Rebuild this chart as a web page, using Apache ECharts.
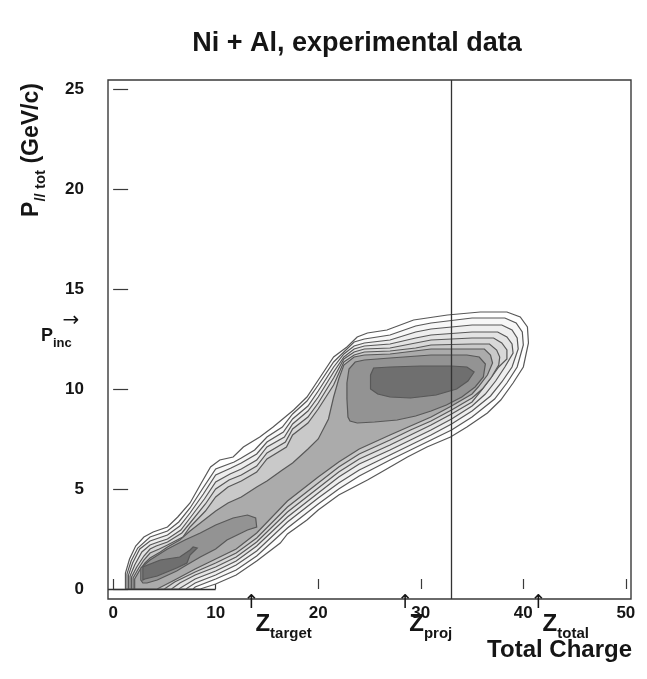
<!DOCTYPE html>
<html><head><meta charset="utf-8">
<script src="https://cdn.jsdelivr.net/npm/echarts@6/dist/echarts.min.js"></script>
<style>html,body{margin:0;padding:0;background:#fff}#c{width:647px;height:679px}</style>
</head><body><div id="c"></div>
<script>
const xTicks = [0, 10, 20, 30, 40, 50];
const yTicks = [0, 5, 10, 15, 20, 25];
const verticalLineX = 33;
const zTarget = 13, zProj = 28, zTotal = 41;
const pInc = 12.7;

// contour polygons, outermost first
const contour1 = [[1.2,0],[1.2,0.8],[1.6,1.5],[2.2,2.15],[3.0,2.6],[3.9,2.85],[5.3,3.1],[6.3,3.6],[7.5,4.3],[8.6,5.3],[9.5,6.1],[10.4,6.45],[11.7,6.6],[12.7,7.1],[14.3,7.6],[15.6,8.1],[17.6,8.95],[18.9,9.6],[20.2,10.6],[21.5,11.6],[22.8,12.1],[23.8,12.6],[24.8,12.8],[26.7,12.95],[29.3,13.45],[32.6,13.7],[35.8,13.85],[38.4,13.85],[39.7,13.6],[40.4,13.1],[40.5,12.3],[40.0,11.1],[39.0,10.3],[37.8,9.45],[36.5,8.8],[34.5,8.1],[32.9,7.6],[30.6,7.1],[28.7,6.6],[26.0,5.8],[24.8,5.45],[22,4.7],[20,3.95],[18.9,3.45],[17,2.75],[16.3,2.3],[14,1.4],[12,0.7],[10,0.25],[8.5,0]];
const contour2 = [[1.35,0],[1.35,0.75],[1.75,1.4],[2.4,2.05],[3.6,2.6],[5.3,2.9],[6.4,3.35],[7.5,4.05],[8.7,5.0],[10,6.0],[11.8,6.35],[12.5,6.55],[13.8,6.95],[15,7.6],[16.5,8.1],[17.5,8.75],[18.9,9.4],[20,10.2],[21.5,11.35],[22.5,11.85],[23.5,12.35],[24.5,12.5],[27,12.7],[29.5,13.15],[31,13.3],[35,13.55],[38.2,13.55],[39.3,13.3],[39.9,12.85],[40.0,12.2],[39.4,11.1],[38.4,10.3],[37.2,9.5],[35,8.6],[33,7.95],[31,7.45],[29,6.95],[27,6.45],[24,5.65],[22,5.0],[20,4.25],[17,3.05],[14,1.65],[12,0.95],[10,0.5],[8,0.1],[7.8,0]];
const contour3 = [[1.5,0],[1.5,0.7],[1.9,1.3],[2.6,2.0],[3.6,2.4],[5.3,2.7],[6.5,3.15],[7.5,3.8],[8.8,4.75],[10,5.7],[11.5,6.05],[12.5,6.3],[14,6.75],[15,7.35],[16.6,7.85],[17.5,8.5],[19,9.15],[20,9.9],[21.5,11.1],[22.5,11.75],[23.5,12.15],[24.5,12.3],[27,12.45],[29.5,12.85],[31,13.0],[35,13.2],[37.9,13.2],[38.9,12.95],[39.4,12.55],[39.5,12.0],[38.9,11.1],[37.9,10.35],[36.8,9.65],[35,8.9],[33,8.25],[31,7.7],[29,7.2],[27,6.7],[24,5.95],[22,5.3],[20,4.55],[17,3.35],[14,1.9],[12,1.2],[10,0.7],[8,0.3],[7.1,0]];
const contour4 = [[1.65,0],[1.65,0.65],[2.1,1.2],[2.8,1.85],[3.6,2.2],[4.4,2.35],[5.3,2.5],[6.6,2.95],[7.5,3.55],[8.9,4.5],[10,5.35],[11.4,5.75],[12.5,6.0],[14,6.45],[15,7.1],[16.7,7.6],[17.5,8.25],[19,8.9],[20,9.6],[21.5,10.85],[22.5,11.6],[23.5,12.0],[24.5,12.15],[27,12.25],[29.5,12.55],[31,12.7],[35,12.85],[37.5,12.85],[38.4,12.6],[38.9,12.25],[39.0,11.8],[38.2,11.1],[37.3,10.4],[36.3,9.75],[35,9.15],[33,8.5],[31,7.95],[29,7.45],[27,6.95],[24,6.25],[22,5.6],[20,4.8],[17,3.6],[14,2.15],[12,1.4],[10,0.9],[8,0.5],[6.4,0]];
const contour5 = [[1.8,0],[1.8,0.6],[2.3,1.1],[3.0,1.65],[3.6,2.0],[4.2,2.15],[5.3,2.35],[6.7,2.8],[7.5,3.3],[9,4.25],[10,5.0],[11.3,5.45],[12.5,5.7],[14,6.15],[15,6.8],[16.8,7.35],[17.5,8.0],[19,8.6],[20,9.3],[21.5,10.55],[22.5,11.5],[23.5,11.85],[24.5,12.0],[27,12.05],[29.5,12.3],[31,12.45],[35,12.55],[37.1,12.55],[37.9,12.3],[38.4,11.95],[38.4,11.5],[37.6,11.1],[36.7,10.45],[35.8,9.85],[35,9.35],[33,8.75],[31,8.2],[29,7.7],[27,7.2],[24,6.5],[22,5.85],[20,5.05],[17,3.85],[14,2.35],[12,1.6],[10,1.1],[8,0.7],[6.5,0.3],[5.7,0]];
const contour6 = [[1.95,0],[1.95,0.55],[2.5,1.05],[3.0,1.45],[3.6,1.8],[4.5,2.0],[5.3,2.2],[6.8,2.6],[7.5,3.1],[9,3.9],[10,4.6],[11.2,5.1],[12.5,5.4],[14,5.85],[15,6.5],[16.9,7.1],[17.5,7.7],[19,8.3],[20,9.0],[21.5,10.2],[22.5,11.35],[23.5,11.7],[24.5,11.85],[27,11.9],[29.5,12.05],[31,12.2],[35,12.25],[36.7,12.25],[37.4,11.95],[37.7,11.6],[37.6,11.2],[36.9,10.6],[36.0,10.0],[35,9.55],[33,8.95],[31,8.4],[29,7.95],[27,7.45],[24,6.75],[22,6.1],[20,5.3],[17,4.1],[14,2.55],[12,1.8],[10,1.3],[8,0.85],[6,0.35],[5.0,0]];
const contour7 = [[2.1,0],[2.1,0.5],[2.6,0.95],[3.1,1.3],[3.6,1.55],[4.6,1.85],[5.3,2.1],[6.5,2.45],[7.5,2.9],[9,3.5],[10,3.9],[11.2,4.3],[12.5,4.6],[14,5.1],[15,5.4],[16.5,5.95],[17.5,6.3],[19,7.0],[20,7.5],[21,8.5],[21.5,9.6],[22,10.5],[22.5,11.2],[23.5,11.6],[24.5,11.7],[27,11.75],[31,12.0],[35,12.0],[36.2,12.0],[36.8,11.7],[37.0,11.3],[36.5,10.7],[35.6,10.1],[35,9.75],[33,9.15],[31,8.6],[29,8.15],[27,7.7],[24,7.0],[22,6.35],[20,5.6],[17,4.4],[14,2.8],[12,2.0],[10,1.5],[8,1.0],[6,0.45],[4.3,0]];
const contour8High = [[22.9,8.6],[22.8,9.5],[22.8,10.3],[23.0,11.0],[23.6,11.35],[24.5,11.45],[27,11.55],[31,11.7],[34.5,11.7],[35.7,11.6],[36.3,11.25],[36.1,10.6],[35.3,10.1],[34,9.6],[32.5,9.2],[31,8.9],[29.5,8.65],[27.7,8.45],[25.5,8.35],[23.8,8.3],[23.1,8.4]];
const contour8Low = [[2.7,0.45],[2.7,1.05],[3.6,1.45],[5.3,2.0],[7,2.45],[8.5,2.8],[10,3.2],[11.7,3.55],[13.1,3.7],[13.9,3.55],[14.0,3.1],[13.1,2.95],[11.1,2.45],[10,2.0],[8.5,1.6],[7,1.15],[6.2,0.9],[4.3,0.45],[3.3,0.3],[2.9,0.3]];
const contour9High = [[25.1,10.0],[25.1,10.7],[25.4,11.05],[27,11.1],[30,11.15],[33,11.15],[34.5,11.1],[35.2,10.85],[34.6,10.4],[33.5,10.0],[31.5,9.7],[29,9.55],[27,9.6],[25.8,9.75]];
const contour9Low = [[2.9,0.45],[2.9,1.1],[4.6,1.45],[6.5,1.6],[7.5,1.95],[7.8,2.1],[8.2,2.05],[7.5,1.7],[7.2,1.3],[6.2,1.05],[4.3,0.65],[3.1,0.5]];

const contours = [contour1, contour2, contour3, contour4, contour5, contour6, contour7, contour8High, contour8Low, contour9High, contour9Low];
const fills = ['#ffffff','#f7f7f7','#eeeeee','#e3e3e3','#d8d8d8','#c9c9c9','#ababab','#939393','#939393','#6f6f6f','#6f6f6f'];

const chart = echarts.init(document.getElementById('c'), null, {renderer:'canvas', width:647, height:679});
const FONT = 'Liberation Sans, Arial, Helvetica, sans-serif';

function polySeries(points, fill){
  return {
    type:'custom', coordinateSystem:'cartesian2d', clip:true, silent:true, z: 2,
    data: points, encode:{x:0, y:1},
    renderItem: function(params, api){
      if (params.dataIndex !== 0) return null;
      const pts = points.map(p => api.coord(p));
      return {type:'polygon', shape:{points:pts}, style:{fill:fill, stroke:'#585858', lineWidth:1.2}};
    }
  };
}

const series = contours.map((c,i) => polySeries(c, fills[i]));
series.push({
  type:'line', data:[], silent:true, z:5,
  markLine:{symbol:'none', silent:true, label:{show:false},
    lineStyle:{color:'#333', width:1.3, type:'solid'},
    data:[ {xAxis: verticalLineX}, [{coord:[-0.5,0]},{coord:[10,0]}] ]}
});

chart.setOption({
  animation:false,
  backgroundColor:'#ffffff',
  title:{text:'Ni + Al, experimental data', left:352, top:25, textAlign:'center',
    textStyle:{fontFamily:FONT, fontWeight:'bold', fontSize:27, color:'#151515'}},
  grid:{left:108, top:80, width:523, height:519, show:true, borderColor:'#3a3a3a', borderWidth:1.4, backgroundColor:'transparent'},
  xAxis:{type:'value', min:-0.5, max:50.5, splitLine:{show:false},
    axisLine:{show:false},
    axisTick:{inside:true, length:10, lineStyle:{color:'#3a3a3a', width:1.2}, customValues:xTicks},
    axisLabel:{customValues:xTicks, margin:6, fontFamily:FONT, fontWeight:'bold', fontSize:17, color:'#151515'}},
  yAxis:{type:'value', min:-0.5, max:25.45, splitLine:{show:false},
    axisLine:{show:false},
    axisTick:{inside:true, length:15, lineStyle:{color:'#3a3a3a', width:1.2}, customValues:yTicks},
    axisLabel:{customValues:yTicks, margin:24, fontFamily:FONT, fontWeight:'bold', fontSize:17, color:'#151515'}},
  series: series
});

function px(x){ return chart.convertToPixel({xAxisIndex:0}, x); }
function py(y){ return chart.convertToPixel({yAxisIndex:0}, y); }

function zLabel(x, name){
  const x0 = px(x);
  return [
    {type:'text', x:x0+5, y:594, style:{text:'↑', font:'19px DejaVu Sans', fill:'#151515', align:'center', verticalAlign:'top'}},
    {type:'text', x:x0+9, y:608, style:{
      text:'{z|Z}{s|' + name + '}', fill:'#151515',
      rich:{z:{fontFamily:FONT, fontWeight:'bold', fontSize:24, lineHeight:28, verticalAlign:'bottom'},
            s:{fontFamily:FONT, fontWeight:'bold', fontSize:15, lineHeight:15, verticalAlign:'bottom', padding:[0,0,-5,0]}}
    }}
  ];
}

const graphics = [
  {type:'text', x:30, y:150, rotation:Math.PI/2, style:{
    text:'{p|P}{s|// tot}{p| (GeV/c)}', align:'center', verticalAlign:'middle', fill:'#151515',
    rich:{p:{fontFamily:FONT, fontWeight:'bold', fontSize:23, lineHeight:27, verticalAlign:'bottom'},
          s:{fontFamily:FONT, fontWeight:'bold', fontSize:15, lineHeight:15, verticalAlign:'bottom', padding:[0,0,-5,0]}}
  }},
  {type:'text', x:41, y:py(pInc)-12, style:{
    text:'{p|P}{s|inc}', fill:'#151515',
    rich:{p:{fontFamily:FONT, fontWeight:'bold', fontSize:18, lineHeight:22, verticalAlign:'bottom'},
          s:{fontFamily:FONT, fontWeight:'bold', fontSize:13, lineHeight:14, verticalAlign:'bottom', padding:[0,0,-5,0]}}
  }},
  {type:'text', x:71, y:py(pInc)-24, style:{text:'→', font:'20px DejaVu Sans', fill:'#151515', align:'center', verticalAlign:'top'}},
  {type:'text', x:632, y:638, style:{text:'Total Charge', align:'right', verticalAlign:'top', font:'bold 24px ' + FONT, fill:'#151515'}}
].concat(zLabel(zTarget,'target'), zLabel(zProj,'proj'), zLabel(zTotal,'total'));

chart.setOption({graphic: graphics});
</script>
</body></html>
